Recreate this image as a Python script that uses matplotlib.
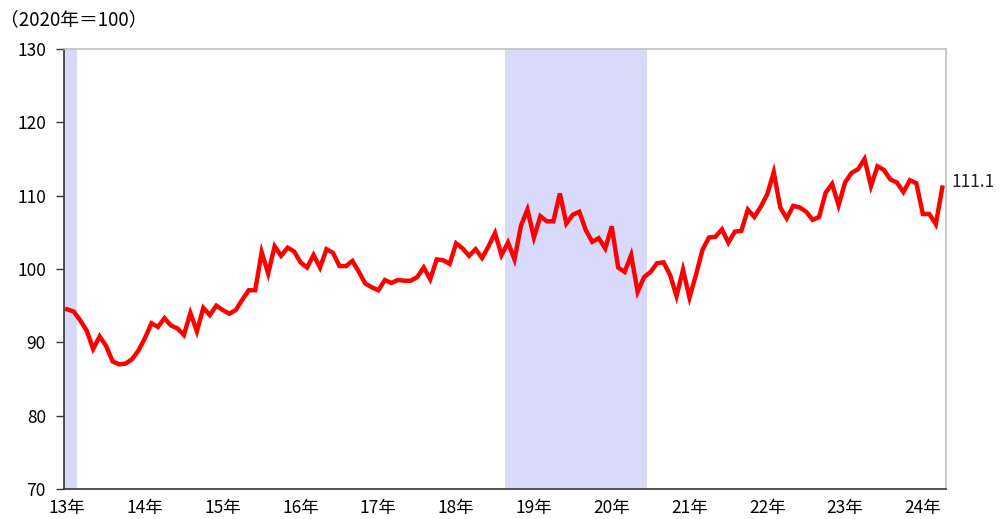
import matplotlib
matplotlib.use("Agg")
import matplotlib.pyplot as plt
import numpy as np

plt.rcParams['font.family'] = ['Noto Sans CJK JP', 'DejaVu Sans']

# monthly index, Jan 2013 - Apr 2024 (2020 = 100)
values = [
    94.5, 94.2, 93.0, 91.6, 89.1, 90.8, 89.5, 87.4, 87.0, 87.1, 87.7, 88.9,
    90.6, 92.6, 92.1, 93.3, 92.3, 91.9, 91.0, 94.0, 91.5, 94.7, 93.7, 95.0,
    94.4, 93.9, 94.4, 95.8, 97.1, 97.1, 102.3, 99.4, 103.1, 101.8, 102.9, 102.4,
    100.9, 100.2, 101.9, 100.2, 102.7, 102.2, 100.4, 100.4, 101.1, 99.6, 98.0, 97.5,
    97.1, 98.5, 98.1, 98.5, 98.4, 98.4, 98.9, 100.2, 98.6, 101.3, 101.2, 100.7,
    103.5, 102.8, 101.8, 102.7, 101.5, 103.1, 104.9, 101.9, 103.6, 101.3, 105.9, 108.1,
    104.3, 107.2, 106.5, 106.5, 110.3, 106.2, 107.4, 107.8, 105.3, 103.7, 104.2, 102.8,
    105.8, 100.2, 99.6, 101.9, 96.9, 98.9, 99.6, 100.8, 100.9, 99.2, 96.3, 99.9,
    96.1, 99.2, 102.6, 104.3, 104.4, 105.4, 103.6, 105.1, 105.2, 108.1, 107.1, 108.5,
    110.2, 113.2, 108.4, 106.9, 108.6, 108.4, 107.8, 106.7, 107.1, 110.4, 111.6, 108.7,
    111.8, 113.1, 113.6, 115.0, 111.3, 114.0, 113.5, 112.2, 111.8, 110.5, 112.1, 111.7,
    107.5, 107.5, 106.1, 111.1,
]
year_labels = ["13年", "14年", "15年", "16年", "17年", "18年",
               "19年", "20年", "21年", "22年", "23年", "24年"]
# shaded periods, in month index (start, end)
recessions = [(-0.5, 1.5), (67.5, 89.5)]
unit_label = "（2020年＝100）"

x = np.arange(len(values))

fig = plt.figure(figsize=(10.03, 5.19), dpi=100)
ax = fig.add_axes([0.0638, 0.0578, 0.8789, 0.8478])

for s, e in recessions:
    ax.axvspan(s, e, color="#d9d9fa", lw=0, zorder=0)

ax.plot(x, values, color="#ff0000", lw=3.2, solid_joinstyle="miter", zorder=3)

ax.set_xlim(-0.5, len(values) - 0.5)
ax.set_ylim(70, 130)
ax.set_yticks(range(70, 131, 10))
ax.set_xticks(np.arange(len(year_labels)) * 12)
ax.set_xticklabels(year_labels)

ax.tick_params(axis="y", direction="out", length=6, width=1, color="#333333",
               labelsize=12.5, pad=7)
ax.tick_params(axis="x", length=0, labelsize=12.5, pad=7)

for side in ["left", "bottom"]:
    ax.spines[side].set_color("#333333")
    ax.spines[side].set_linewidth(1.2)
for side in ["top", "right"]:
    ax.spines[side].set_color("#c0c0c0")
    ax.spines[side].set_linewidth(1.2)

ax.annotate(f"{values[-1]:.1f}", xy=(x[-1], values[-1]), xytext=(9, 6),
            textcoords="offset pixels", ha="left", va="center",
            fontsize=12.5, color="#222222", annotation_clip=False)

fig.text(0.0, 1 - 20 / 519, unit_label, fontsize=13.5, va="center", ha="left")

fig.savefig("out.png", dpi=100)
